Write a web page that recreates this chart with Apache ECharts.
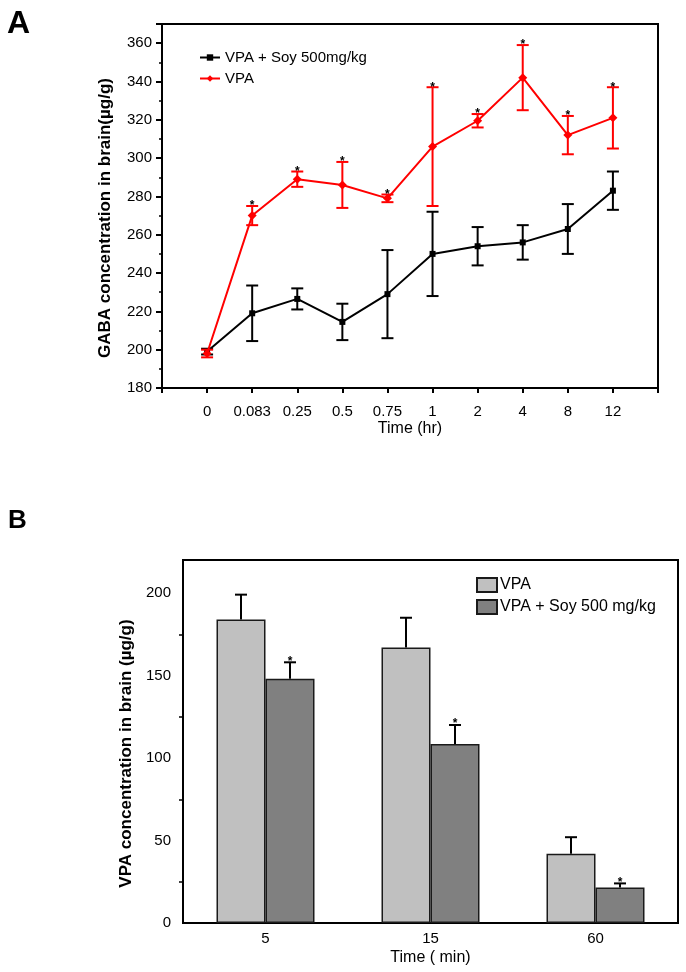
<!DOCTYPE html>
<html><head><meta charset="utf-8">
<script src="https://cdn.jsdelivr.net/npm/echarts@6/dist/echarts.min.js"></script>
<style>html,body{margin:0;padding:0;background:#fff}#c{width:686px;height:972px}</style>
</head><body><div id="c"></div>
<script>
// ---- Panel A data (GABA, µg/g) ----
const timeLabelsA = ['0','0.083','0.25','0.5','0.75','1','2','4','8','12'];
const soyMeanA = [199, 219, 226.5, 214.5, 229, 250, 254, 256, 263, 283];
const soyErrA  = [1.5, 14.5, 5.5, 9.5, 23, 22, 10, 9, 13, 10];
const vpaMeanA = [198, 270, 289, 286, 279, 306, 319.5, 342, 312, 321];
const vpaErrA  = [2, 5, 4, 12, 2, 31, 3.5, 17, 10, 16];
const vpaSigA  = [0, 1, 1, 1, 1, 1, 1, 1, 1, 1];
const yTicksA = [180, 200, 220, 240, 260, 280, 300, 320, 340, 360];

// ---- Panel B data (VPA, µg/g) ----
const timeLabelsB = ['5','15','60'];
const vpaMeanB = [184, 167, 42];
const vpaErrB  = [15, 18, 10];
const soyMeanB = [148, 108.5, 21.5];
const soyErrB  = [10, 11.5, 2.5];
const soySigB  = [1, 1, 1];
const yTicksB = [0, 50, 100, 150, 200];

const FONT = 'Arial, "Liberation Sans", sans-serif';
const chart = echarts.init(document.getElementById('c'));

function errA(mean, err, sig) {
  return mean.map((m, i) => [i, m - err[i], m + err[i], sig ? sig[i] : 0]);
}
function renderErrA(color) {
  return function (params, api) {
    const x = api.value(0);
    const lo = api.coord([x, api.value(1)]);
    const hi = api.coord([x, api.value(2)]);
    const hw = 6;
    const st = { stroke: color, lineWidth: 2 };
    const children = [
      { type: 'line', shape: { x1: lo[0], y1: lo[1], x2: hi[0], y2: hi[1] }, style: st },
      { type: 'line', shape: { x1: lo[0] - hw, y1: lo[1], x2: lo[0] + hw, y2: lo[1] }, style: st },
      { type: 'line', shape: { x1: hi[0] - hw, y1: hi[1], x2: hi[0] + hw, y2: hi[1] }, style: st }
    ];
    if (api.value(3)) {
      children.push({ type: 'text', style: { text: '*', x: hi[0], y: hi[1] + 6, align: 'center', verticalAlign: 'bottom', fill: '#000', font: 'bold 12px ' + FONT } });
    }
    return { type: 'group', children };
  };
}
function renderErrB(side, color) {
  return function (params, api) {
    const c = api.value(0);
    const base = api.coord([c, api.value(1)]);
    const hi = api.coord([c, api.value(2)]);
    const bw = 49;
    const x = base[0] + side * bw / 2;
    const hw = 6;
    const st = { stroke: color, lineWidth: 2 };
    const children = [
      { type: 'line', shape: { x1: x, y1: base[1], x2: x, y2: hi[1] }, style: st },
      { type: 'line', shape: { x1: x - hw, y1: hi[1], x2: x + hw, y2: hi[1] }, style: st }
    ];
    if (api.value(3)) {
      children.push({ type: 'text', style: { text: '*', x: x, y: hi[1] + 5, align: 'center', verticalAlign: 'bottom', fill: '#000', font: 'bold 12px ' + FONT } });
    }
    return { type: 'group', children };
  };
}

const option = {
  animation: false,
  backgroundColor: '#fff',
  textStyle: { fontFamily: FONT },
  graphic: [
    { type: 'text', left: 7, top: 8, style: { text: 'A', font: 'bold 32px ' + FONT, fill: '#000' } },
    { type: 'text', left: 8, top: 508, style: { text: 'B', font: 'bold 26px ' + FONT, fill: '#000' } }
  ],
  legend: [
    {
      orient: 'vertical', left: 194, top: 45, itemWidth: 20, itemHeight: 8, itemGap: 6,
      textStyle: { fontSize: 15, color: '#000', fontFamily: FONT },
      data: ['VPA + Soy 500mg/kg', 'VPA']
    },
    {
      orient: 'vertical', left: 471, top: 572, itemWidth: 20, itemHeight: 14, itemGap: 6, icon: 'rect',
      textStyle: { fontSize: 16, color: '#000', fontFamily: FONT, padding: [0, 0, 0, -2] },
      data: ['VPA ', 'VPA + Soy 500 mg/kg']
    }
  ],
  grid: [
    { left: 162, top: 24, width: 496, height: 364, show: true, borderColor: '#000', borderWidth: 2 },
    { left: 183, top: 560, width: 495, height: 363, show: true, borderColor: '#000', borderWidth: 2 }
  ],
  xAxis: [
    {
      gridIndex: 0, type: 'value', min: -1, max: 10, interval: 1,
      name: 'Time (hr)', nameLocation: 'middle', nameGap: 33,
      nameTextStyle: { fontSize: 16, color: '#000', fontFamily: FONT },
      axisLine: { onZero: false, lineStyle: { color: '#000', width: 2 } },
      axisTick: { length: 5, lineStyle: { color: '#000', width: 2 } },
      splitLine: { show: false },
      axisLabel: { margin: 16, fontSize: 15, color: '#000', fontFamily: FONT,
        formatter: v => (v >= 0 && v < timeLabelsA.length) ? timeLabelsA[v] : '' }
    },
    {
      gridIndex: 1, type: 'category', data: timeLabelsB,
      name: 'Time ( min)', nameLocation: 'middle', nameGap: 27,
      nameTextStyle: { fontSize: 16, color: '#000', fontFamily: FONT },
      axisLine: { onZero: false, lineStyle: { color: '#000', width: 2 } },
      axisTick: { show: false },
      axisLabel: { margin: 8, fontSize: 15, color: '#000', fontFamily: FONT }
    }
  ],
  yAxis: [
    {
      gridIndex: 0, type: 'value', min: 180, max: 370, interval: 20,
      name: 'GABA concentration in brain(µg/g)', nameLocation: 'middle', nameGap: 48,
      nameTextStyle: { fontSize: 17, fontWeight: 'bold', color: '#000', fontFamily: FONT, padding: [0, 24, 0, 0] },
      axisLine: { show: true, onZero: false, lineStyle: { color: '#000', width: 2 } },
      axisTick: { length: 6, lineStyle: { color: '#000', width: 2 } },
      minorTick: { show: true, splitNumber: 2, length: 3, lineStyle: { color: '#000', width: 1.5 } },
      splitLine: { show: false },
      axisLabel: { margin: 10, fontSize: 15, color: '#000', fontFamily: FONT,
        formatter: v => yTicksA.indexOf(v) >= 0 ? String(v) : '' }
    },
    {
      gridIndex: 1, type: 'value', min: 0, max: 220, interval: 50,
      name: 'VPA concentration in brain (µg/g)', nameLocation: 'middle', nameGap: 46,
      nameTextStyle: { fontSize: 17, fontWeight: 'bold', color: '#000', fontFamily: FONT, padding: [0, 24, 0, 0] },
      axisLine: { show: true, onZero: false, lineStyle: { color: '#000', width: 2 } },
      axisTick: { length: 6, lineStyle: { color: '#000', width: 2 } },
      minorTick: { show: true, splitNumber: 2, length: 4, lineStyle: { color: '#000', width: 1.5 } },
      splitLine: { show: false },
      axisLabel: { margin: 12, fontSize: 15, color: '#000', fontFamily: FONT,
        formatter: v => yTicksB.indexOf(v) >= 0 ? String(v) : '' }
    }
  ],
  series: [
    {
      name: 'VPA + Soy 500mg/kg', type: 'line', xAxisIndex: 0, yAxisIndex: 0,
      data: soyMeanA.map((v, i) => [i, v]),
      symbol: 'rect', symbolSize: 6, color: '#000',
      lineStyle: { color: '#000', width: 2 }, itemStyle: { color: '#000' }, z: 3
    },
    {
      type: 'custom', xAxisIndex: 0, yAxisIndex: 0, renderItem: renderErrA('#000'),
      data: errA(soyMeanA, soyErrA, null), z: 3, silent: true
    },
    {
      name: 'VPA', type: 'line', xAxisIndex: 0, yAxisIndex: 0,
      data: vpaMeanA.map((v, i) => [i, v]),
      symbol: 'diamond', symbolSize: 9, color: '#ff0000',
      lineStyle: { color: '#ff0000', width: 2 }, itemStyle: { color: '#ff0000' }, z: 4
    },
    {
      type: 'custom', xAxisIndex: 0, yAxisIndex: 0, renderItem: renderErrA('#ff0000'),
      data: errA(vpaMeanA, vpaErrA, vpaSigA), z: 4, silent: true
    },
    {
      name: 'VPA ', type: 'bar', xAxisIndex: 1, yAxisIndex: 1, data: vpaMeanB,
      barWidth: 49, barGap: '0%', color: '#c0c0c0',
      itemStyle: { color: '#c0c0c0', borderColor: '#1a1a1a', borderWidth: 1.5 }
    },
    {
      name: 'VPA + Soy 500 mg/kg', type: 'bar', xAxisIndex: 1, yAxisIndex: 1, data: soyMeanB,
      barWidth: 49, barGap: '0%', color: '#808080',
      itemStyle: { color: '#808080', borderColor: '#1a1a1a', borderWidth: 1.5 }
    },
    {
      type: 'custom', xAxisIndex: 1, yAxisIndex: 1, renderItem: renderErrB(-1, '#000'),
      data: vpaMeanB.map((m, i) => [i, m, m + vpaErrB[i], 0]), z: 5, silent: true
    },
    {
      type: 'custom', xAxisIndex: 1, yAxisIndex: 1, renderItem: renderErrB(1, '#000'),
      data: soyMeanB.map((m, i) => [i, m, m + soyErrB[i], soySigB[i]]), z: 5, silent: true
    }
  ]
};
chart.setOption(option);
</script>
</body></html>
